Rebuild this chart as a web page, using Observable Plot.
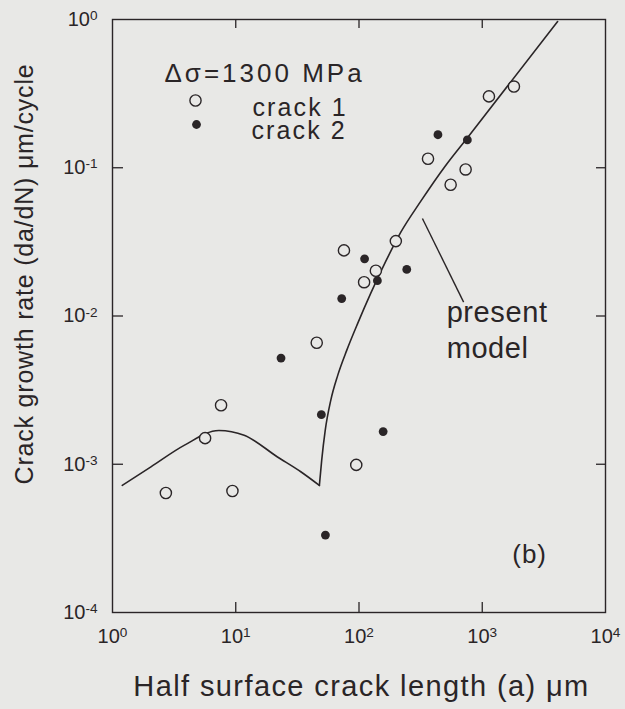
<!DOCTYPE html>
<html><head><meta charset="utf-8">
<script src="https://cdn.jsdelivr.net/npm/d3@7"></script>
<script src="https://cdn.jsdelivr.net/npm/@observablehq/plot@0.6"></script>
<style>
html,body{margin:0;padding:0;background:#e8e8e6;}
#chart svg{display:block;}
</style></head><body><div id="chart"></div>
<script>
// ---- data ----
const crack1A    = [2.71, 9.4, 5.64, 7.6, 45.4, 95, 75.5, 110, 137, 199, 363, 554, 733, 1133, 1807];
const crack1Rate = [6.4e-4, 6.6e-4, 1.5e-3, 2.5e-3, 6.6e-3, 9.9e-4, 0.0277, 0.0169, 0.0202, 0.032, 0.115, 0.0768, 0.0974, 0.303, 0.353];
const crack2A    = [23.3, 49.5, 157, 53.4, 111, 72.4, 141, 244, 437, 757];
const crack2Rate = [5.2e-3, 2.16e-3, 1.66e-3, 3.33e-4, 0.0243, 0.0131, 0.0173, 0.0206, 0.167, 0.154];
const modelA      = [1.2, 2.05, 3.81, 7.3, 11.7, 21.8, 33.7, 47.7,
                     47.7, 49.8, 53.2, 59.0, 67.2, 79.5, 97.6, 124.4, 164.7, 217.9, 316.5, 505, 761.5, 4088];
const modelRate   = [7.2e-4, 9.6e-4, 1.34e-3, 1.69e-3, 1.57e-3, 1.12e-3, 8.9e-4, 7.2e-4,
                     7.2e-4, 1.062e-3, 1.693e-3, 2.697e-3, 3.977e-3, 5.861e-3, 8.915e-3, 0.0142, 0.02334, 0.03662, 0.05927, 0.1036, 0.1601, 0.969];
const modelBranch = ["short","short","short","short","short","short","short","short",
                     "long","long","long","long","long","long","long","long","long","long","long","long","long","long"];
const leaderA    = [327, 706];
const leaderRate = [0.0455, 0.0124];
const annotationText = "present\nmodel";
const annotationA = [514], annotationRate = [0.01346];
const panelText = "(b)", panelA = [2423], panelRate = [2.45e-4];
const legendTitle = "Δσ=1300 MPa";
const seriesNames = ["crack 1", "crack 2"];
const xTicks = [1, 10, 100, 1000, 10000];
const xTickExp = ["0", "1", "2", "3", "4"];
const yTicks = [1e-4, 1e-3, 1e-2, 1e-1, 1];
const yTickExp = ["-4", "-3", "-2", "-1", "0"];
const xInner = [10, 100, 1000];
const yInner = [1e-3, 1e-2, 1e-1];
const xTitle = "Half surface crack length (a) μm";
const yTitle = "Crack growth rate (da/dN) μm/cycle";

// ---- derived tables ----
const crack1 = crack1A.map((a, i) => ({a, r: crack1Rate[i]}));
const crack2 = crack2A.map((a, i) => ({a, r: crack2Rate[i]}));
const model = modelA.map((a, i) => ({a, r: modelRate[i], b: modelBranch[i]}));

const ink = "#2a2527", bg = "#e8e8e6";
const W = 625, H = 709, mL = 112, mR = 20, mT = 19, mB = 97;
const iW = W - mL - mR, iH = H - mT - mB;

const chart = Plot.plot({
  width: W, height: H,
  marginLeft: mL, marginRight: mR, marginTop: mT, marginBottom: mB,
  style: {background: bg, color: ink, fontFamily: "'Liberation Sans', Arial, Helvetica, sans-serif"},
  x: {type: "log", domain: [1, 1e4], label: null},
  y: {type: "log", domain: [1e-4, 1], label: null},
  marks: [
    Plot.frame({stroke: ink, strokeWidth: 1.4}),
    Plot.tickX(xInner, {x: d => d, stroke: ink, strokeWidth: 1.3, insetTop: iH - 10}),
    Plot.tickX(xInner, {x: d => d, stroke: ink, strokeWidth: 1.3, insetBottom: iH - 9}),
    Plot.tickY(yInner, {y: d => d, stroke: ink, strokeWidth: 1.3, insetRight: iW - 11}),
    Plot.tickY(yInner, {y: d => d, stroke: ink, strokeWidth: 1.3, insetLeft: iW - 9}),
    Plot.axisX(xTicks, {tickSize: 0, tickPadding: 16, fontSize: 20, fill: ink,
      tickFormat: d => "10^" + xTickExp[xTicks.indexOf(d)]}),
    Plot.axisY(yTicks, {tickSize: 0, tickPadding: 15, fontSize: 20, fill: ink,
      tickFormat: d => "10^" + yTickExp[yTicks.indexOf(d)]}),
    Plot.line(model, {x: "a", y: "r", z: "b", stroke: ink, strokeWidth: 1.6, curve: "monotone-x"}),
    Plot.link([0], {x1: () => leaderA[0], y1: () => leaderRate[0], x2: () => leaderA[1], y2: () => leaderRate[1], stroke: ink, strokeWidth: 1.4}),
    Plot.dot(crack1, {x: "a", y: "r", r: 5.6, stroke: ink, strokeWidth: 1.4, fill: bg}),
    Plot.dot(crack2, {x: "a", y: "r", r: 4.4, fill: ink, stroke: "none"}),
    Plot.text([annotationText], {x: () => annotationA[0], y: () => annotationRate[0], text: d => d, textAnchor: "start", lineAnchor: "top", lineHeight: 1.24, fontSize: 29, fill: ink}),
    Plot.text([panelText], {x: () => panelA[0], y: () => panelRate[0], text: d => d, fontSize: 26, fill: ink}),
    // legend
    Plot.text([legendTitle], {frameAnchor: "top-left", text: d => d, dx: 52, dy: 44.5, textAnchor: "start", lineAnchor: "top", fontSize: 26, fill: ink}),
    Plot.dot([seriesNames[0]], {frameAnchor: "top-left", dx: 83, dy: 81, r: 5.6, stroke: ink, strokeWidth: 1.4, fill: bg}),
    Plot.dot([seriesNames[1]], {frameAnchor: "top-left", dx: 84, dy: 105, r: 4.4, fill: ink, stroke: "none"}),
    Plot.text([seriesNames[0]], {frameAnchor: "top-left", text: d => d, dx: 140, dy: 78.3, textAnchor: "start", lineAnchor: "top", fontSize: 25, fill: ink}),
    Plot.text([seriesNames[1]], {frameAnchor: "top-left", text: d => d, dx: 139, dy: 101.6, textAnchor: "start", lineAnchor: "top", fontSize: 25, fill: ink}),
    // axis titles
    Plot.text([xTitle], {frameAnchor: "bottom", text: d => d, textAnchor: "middle", dx: 2.5, dy: 83, fontSize: 29, fill: ink}),
    Plot.text([yTitle], {frameAnchor: "left", text: d => d, textAnchor: "middle", rotate: -90, dx: -87.5, dy: -42, fontSize: 25, fill: ink})
  ]
});

const svg = d3.select(chart);
svg.selectAll('g[aria-label="x-axis tick label"] text, g[aria-label="y-axis tick label"] text').each(function () {
  const t = this.textContent.split("^");
  const s = d3.select(this);
  s.text(null);
  s.append("tspan").text(t[0]);
  s.append("tspan").attr("dy", "-0.42em").attr("font-size", "0.68em").text(t[1]);
});
// letter spacing to mimic the wide scanned typeface
const spacing = new Map([
  [legendTitle, "3px"], [seriesNames[0], "2.1px"], [seriesNames[1], "2.1px"],
  [annotationText.replace("\n", ""), "0.6px"], [panelText, "1px"],
  [xTitle, "1.4px"], [yTitle, "0.8px"]
]);
svg.selectAll("text").each(function () {
  const v = spacing.get(this.textContent);
  if (v) this.style.letterSpacing = v;
});
document.getElementById("chart").appendChild(chart);
</script>
</body></html>
